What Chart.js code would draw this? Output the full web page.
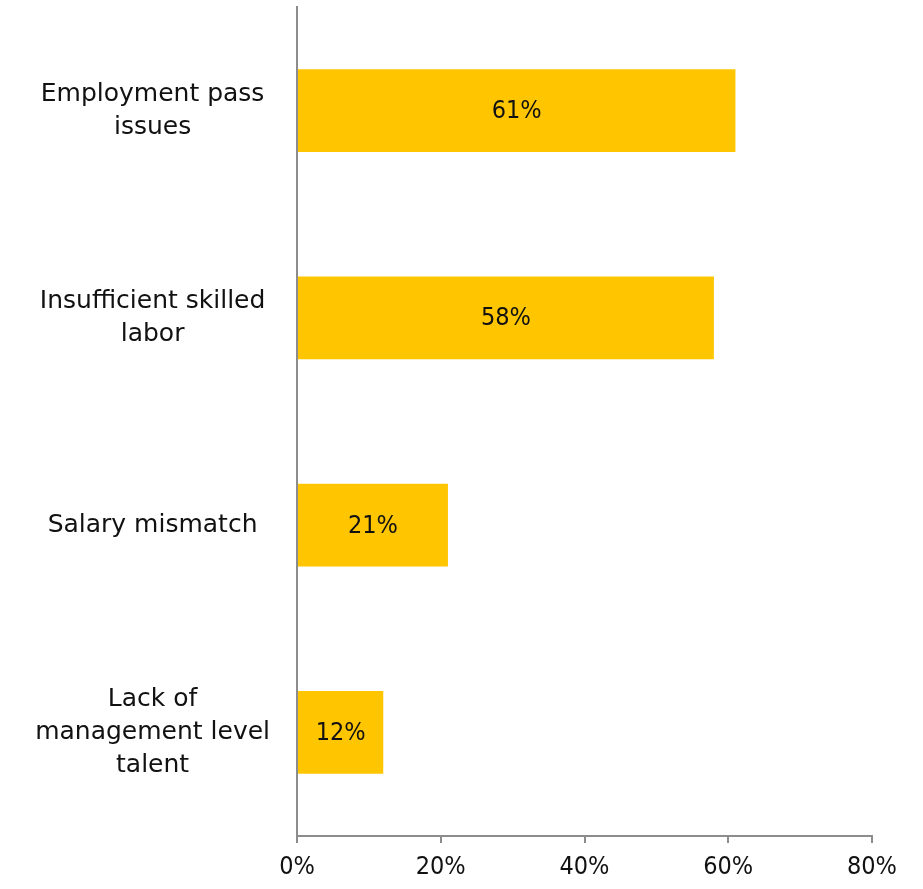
<!DOCTYPE html>
<html>
<head>
<meta charset="utf-8">
<script src="https://cdn.jsdelivr.net/npm/chart.js@4/dist/chart.umd.min.js"></script>
<style>
  html, body { margin: 0; padding: 0; background: #fff; }
  #wrap { width: 923px; height: 889px; }
</style>
</head>
<body>
<div id="wrap"><canvas id="myChart" width="923" height="889"></canvas></div>
<script>
// categories (wrapped as they appear on the axis) and shares
var categories = [
    ["Employment pass", "issues"],
    ["Insufficient skilled", "labor"],
    ["Salary mismatch"],
    ["Lack of", "management level", "talent"]
];
var shares = [0.61, 0.58, 0.21, 0.12];
var xTicks = [0, 0.2, 0.4, 0.6, 0.8];

var fontFamily = "'DejaVu Sans', sans-serif";
var numberFont = "'DejaVu Sans Condensed', 'DejaVu Sans', sans-serif";
var axisGrey = "#8c8c8c";

// write the percentage in the middle of each bar
var barLabels = {
    id: 'barLabels',
    afterDatasetsDraw: function(chart) {
        var ctx = chart.ctx;
        var meta = chart.getDatasetMeta(0);
        ctx.save();
        ctx.font = "25px " + numberFont;
        ctx.fillStyle = "#111";
        ctx.textAlign = "center";
        ctx.textBaseline = "middle";
        meta.data.forEach(function(bar, i) {
            var v = chart.data.datasets[0].data[i];
            ctx.fillText(Math.round(v * 100) + "%", (bar.x + bar.base) / 2, bar.y + 1);
        });
        ctx.restore();
    }
};

window.onload = function() {
    var ctx = document.getElementById('myChart').getContext('2d');
    new Chart(ctx, {
        type: 'bar',
        data: {
            labels: categories,
            datasets: [{
                data: shares,
                backgroundColor: "#ffc600",
                borderWidth: 0,
                categoryPercentage: 0.8,
                barPercentage: 0.5
            }]
        },
        options: {
            indexAxis: 'y',
            responsive: false,
            animation: false,
            layout: { padding: { top: 7, right: 51, left: 0, bottom: 0 } },
            plugins: {
                legend: { display: false },
                tooltip: { enabled: false }
            },
            scales: {
                x: {
                    min: 0,
                    max: 0.8,
                    afterBuildTicks: function(axis) {
                        axis.ticks = xTicks.map(function(v) { return { value: v }; });
                    },
                    grid: {
                        drawOnChartArea: false,
                        drawTicks: true,
                        tickLength: 7,
                        color: axisGrey,
                        lineWidth: 2
                    },
                    border: { color: axisGrey, width: 2 },
                    ticks: {
                        color: "#111",
                        padding: 9,
                        font: { family: numberFont, size: 25 },
                        maxRotation: 0,
                        callback: function(v) { return Math.round(v * 100) + "%"; }
                    },
                    afterFit: function(axis) { axis.height = 53; }
                },
                y: {
                    grid: { display: false, drawTicks: false },
                    border: { color: axisGrey, width: 2 },
                    ticks: {
                        color: "#111",
                        crossAlign: 'center',
                        padding: 27,
                        font: { family: fontFamily, size: 25, lineHeight: 1.32 }
                    },
                    afterFit: function(axis) {
                        axis.width = 297;
                        // multi-line labels would otherwise push the plot down
                        axis.paddingTop = 0;
                        axis.paddingBottom = 0;
                    }
                }
            }
        },
        plugins: [barLabels]
    });
};
</script>
</body>
</html>
